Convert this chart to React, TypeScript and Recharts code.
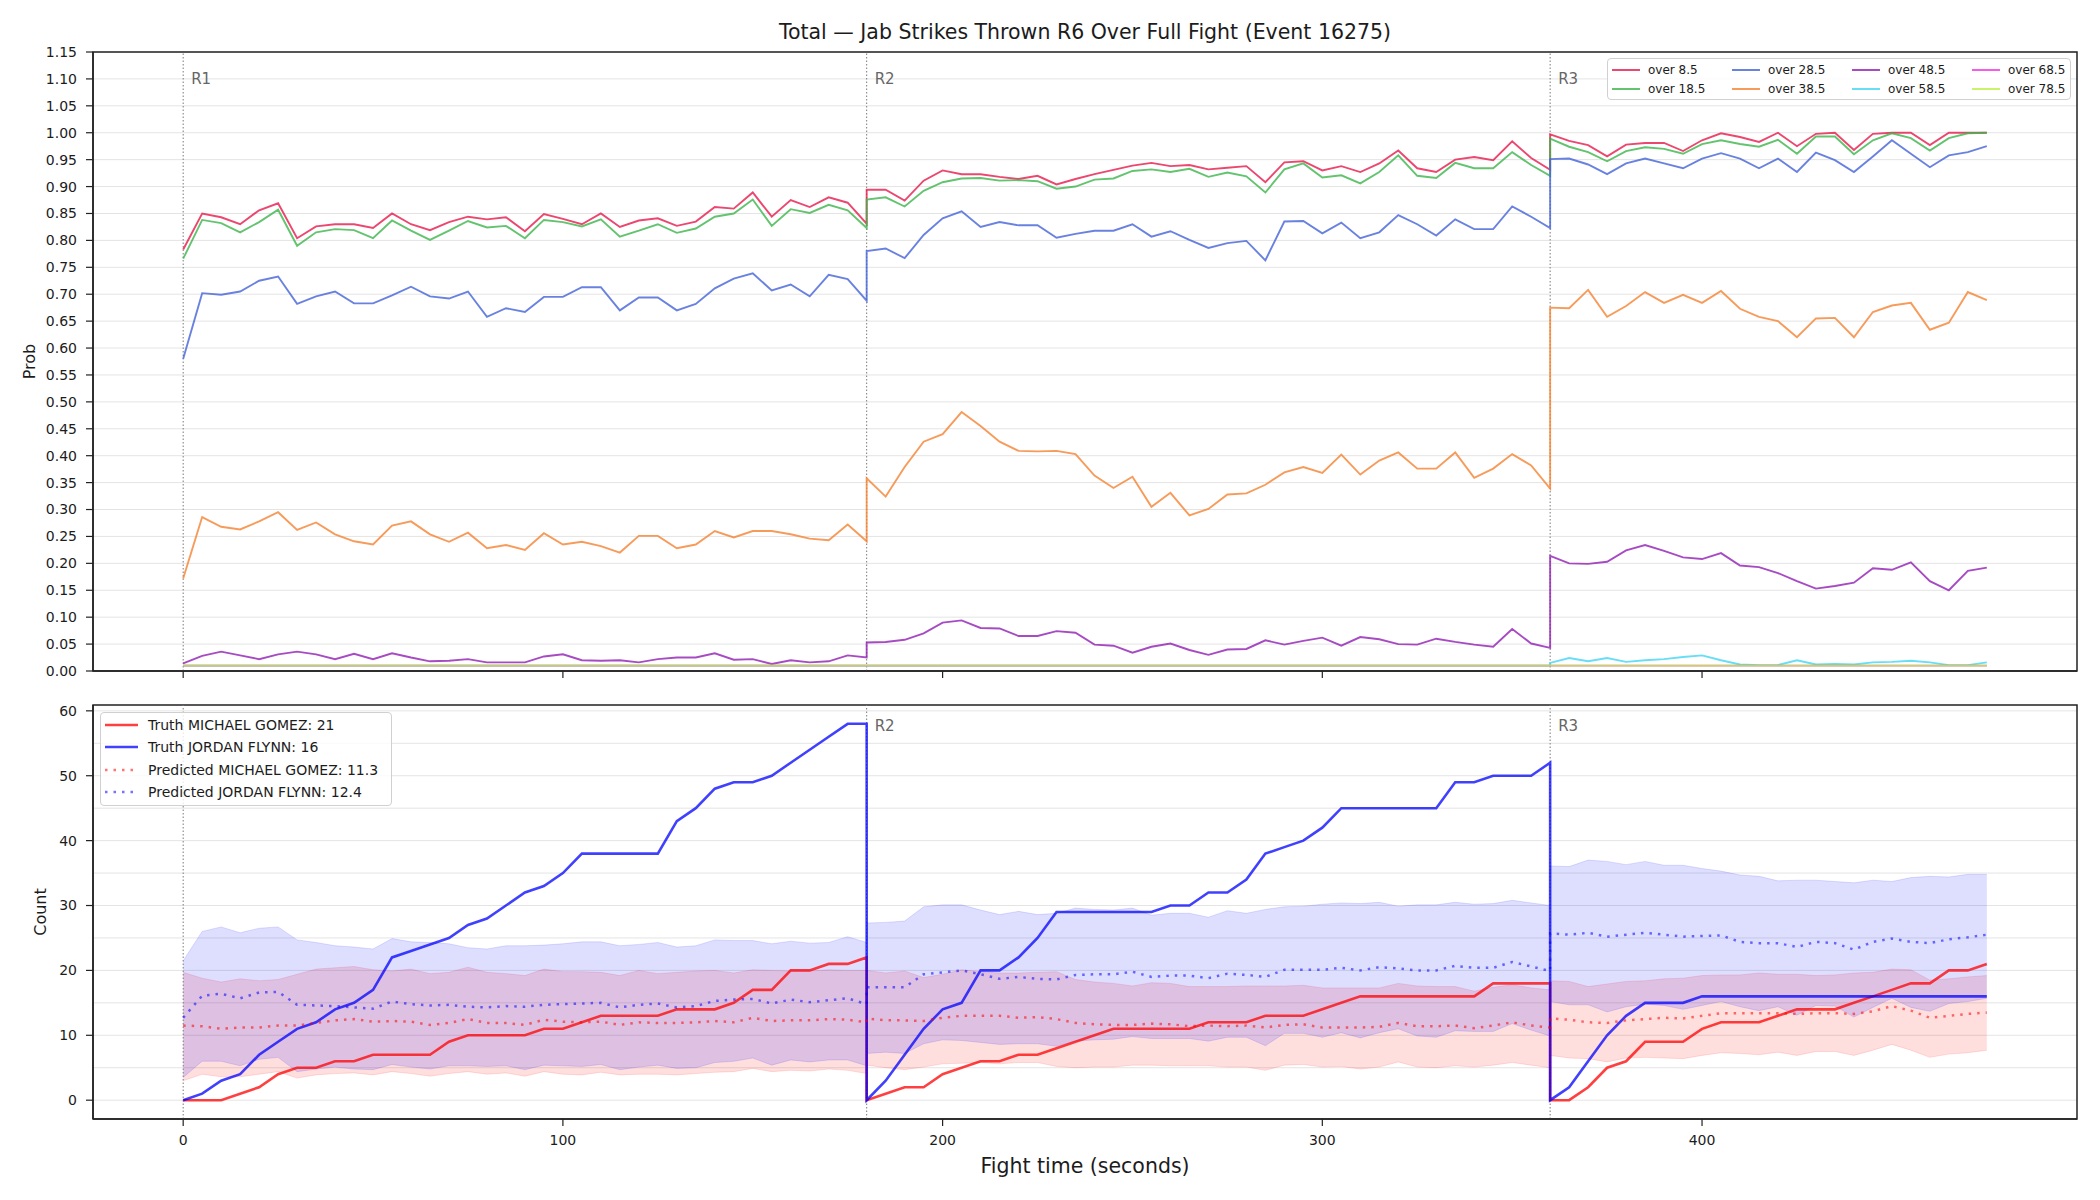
import React from 'react';
import {
  ComposedChart,
  Line,
  Area,
  XAxis,
  YAxis,
  CartesianGrid,
  ReferenceLine,
  ReferenceArea,
} from 'recharts';

const FONT = '"DejaVu Sans", sans-serif';
const INK = '#1c1c1c';

// fight clock in seconds; each round repeats its boundary second so the lines jump there
const r1Times = [0, 5, 10, 15, 20, 25, 30, 35, 40, 45, 50, 55, 60, 65, 70, 75, 80, 85, 90, 95, 100, 105, 110, 115, 120, 125, 130, 135, 140, 145, 150, 155, 160, 165, 170, 175, 180];
const r2Times = [180, 185, 190, 195, 200, 205, 210, 215, 220, 225, 230, 235, 240, 245, 250, 255, 260, 265, 270, 275, 280, 285, 290, 295, 300, 305, 310, 315, 320, 325, 330, 335, 340, 345, 350, 355, 360];
const r3Times = [360, 365, 370, 375, 380, 385, 390, 395, 400, 405, 410, 415, 420, 425, 430, 435, 440, 445, 450, 455, 460, 465, 470, 475];
const fightTimes = [...r1Times, ...r2Times, ...r3Times];

const xTicks = [0, 100, 200, 300, 400];
const probTicks = [0, 0.05, 0.1, 0.15, 0.2, 0.25, 0.3, 0.35, 0.4, 0.45, 0.5, 0.55, 0.6, 0.65, 0.7, 0.75, 0.8, 0.85, 0.9, 0.95, 1.0, 1.05, 1.1, 1.15];
const countTicks = [0, 10, 20, 30, 40, 50, 60];
const countGrid = [0, 5, 10, 15, 20, 25, 30, 35, 40, 45, 50, 55, 60];

const roundStarts = [0, 180, 360];
const roundNames = ['R1', 'R2', 'R3'];

const lineNames = ['over 8.5', 'over 18.5', 'over 28.5', 'over 38.5', 'over 48.5', 'over 58.5', 'over 68.5', 'over 78.5'];
const lineColors = ['#e6194b', '#3cb44b', '#4363d8', '#f58231', '#911eb4', '#42d4f4', '#f032e6', '#bfef45'];

const over8_5 = [
  0.783, 0.85, 0.843, 0.83, 0.856, 0.869, 0.804, 0.826, 0.83, 0.83, 0.823, 0.85, 0.83, 0.819, 0.834, 0.844, 0.839, 0.843, 0.817, 0.849, 0.84, 0.83, 0.85, 0.825, 0.837, 0.841, 0.827, 0.835, 0.862, 0.859, 0.889, 0.844, 0.875, 0.862, 0.88, 0.87, 0.831,
  0.894, 0.894, 0.874, 0.911, 0.93, 0.923, 0.923, 0.918, 0.914, 0.92, 0.904, 0.914, 0.923, 0.931, 0.939, 0.944, 0.938, 0.94, 0.932, 0.935, 0.938, 0.908, 0.945, 0.947, 0.93, 0.938, 0.927, 0.943, 0.967, 0.934, 0.927, 0.95, 0.955, 0.949, 0.984, 0.953, 0.931,
  0.997, 0.985, 0.977, 0.956, 0.978, 0.981, 0.981, 0.966, 0.986, 0.999, 0.992, 0.983, 1.0, 0.975, 0.998, 1.0, 0.968, 0.998, 1.0, 1.0, 0.977, 1.0, 1.0, 1.0,
];
const over18_5 = [
  0.766, 0.838, 0.832, 0.815, 0.834, 0.857, 0.79, 0.815, 0.821, 0.819, 0.804, 0.837, 0.818, 0.801, 0.818, 0.836, 0.824, 0.827, 0.804, 0.838, 0.834, 0.826, 0.839, 0.807, 0.818, 0.83, 0.814, 0.822, 0.844, 0.85, 0.876, 0.827, 0.858, 0.851, 0.866, 0.856, 0.823,
  0.876, 0.88, 0.863, 0.892, 0.908, 0.915, 0.916, 0.911, 0.912, 0.91, 0.896, 0.9, 0.913, 0.915, 0.929, 0.932, 0.927, 0.933, 0.918, 0.926, 0.919, 0.889, 0.932, 0.943, 0.917, 0.921, 0.906, 0.927, 0.958, 0.92, 0.916, 0.944, 0.934, 0.934, 0.964, 0.94, 0.92,
  0.989, 0.974, 0.964, 0.947, 0.966, 0.973, 0.97, 0.961, 0.979, 0.986, 0.979, 0.974, 0.987, 0.961, 0.993, 0.993, 0.96, 0.986, 0.999, 0.99, 0.967, 0.99, 0.999, 1.0,
];
const over28_5 = [
  0.58, 0.702, 0.699, 0.705, 0.725, 0.733, 0.682, 0.696, 0.705, 0.683, 0.683, 0.698, 0.714, 0.696, 0.692, 0.705, 0.658, 0.674, 0.667, 0.695, 0.695, 0.713, 0.713, 0.67, 0.694, 0.694, 0.67, 0.682, 0.711, 0.729, 0.739, 0.707, 0.718, 0.696, 0.736, 0.728, 0.688,
  0.78, 0.785, 0.767, 0.81, 0.841, 0.854, 0.825, 0.834, 0.828, 0.828, 0.805, 0.812, 0.818, 0.818, 0.83, 0.807, 0.817, 0.801, 0.786, 0.795, 0.799, 0.763, 0.835, 0.836, 0.813, 0.833, 0.804, 0.815, 0.847, 0.83, 0.809, 0.839, 0.821, 0.821, 0.863, 0.844, 0.823,
  0.951, 0.952, 0.941, 0.923, 0.943, 0.952, 0.943, 0.934, 0.952, 0.962, 0.952, 0.934, 0.952, 0.927, 0.963, 0.949, 0.927, 0.956, 0.986, 0.961, 0.936, 0.958, 0.964, 0.975,
];
const over38_5 = [
  0.172, 0.286, 0.268, 0.263, 0.278, 0.295, 0.262, 0.276, 0.254, 0.241, 0.235, 0.27, 0.278, 0.254, 0.24, 0.257, 0.228, 0.234, 0.225, 0.256, 0.235, 0.24, 0.232, 0.22, 0.251, 0.251, 0.228, 0.235, 0.26, 0.248, 0.26, 0.26, 0.254, 0.246, 0.243, 0.272, 0.241,
  0.358, 0.324, 0.379, 0.426, 0.44, 0.481, 0.455, 0.426, 0.409, 0.408, 0.409, 0.403, 0.363, 0.34, 0.361, 0.305, 0.331, 0.289, 0.301, 0.328, 0.33, 0.346, 0.369, 0.379, 0.368, 0.402, 0.365, 0.391, 0.406, 0.376, 0.376, 0.406, 0.359, 0.376, 0.403, 0.382, 0.339,
  0.675, 0.674, 0.708, 0.658, 0.678, 0.704, 0.684, 0.699, 0.684, 0.706, 0.673, 0.658, 0.65, 0.62, 0.655, 0.656, 0.62, 0.667, 0.679, 0.684, 0.634, 0.647, 0.704, 0.689,
];
const over48_5 = [
  0.014, 0.028, 0.036, 0.029, 0.022, 0.031, 0.036, 0.031, 0.022, 0.032, 0.022, 0.033, 0.025, 0.018, 0.019, 0.022, 0.016, 0.016, 0.016, 0.027, 0.031, 0.02, 0.019, 0.02, 0.016, 0.022, 0.025, 0.025, 0.033, 0.021, 0.022, 0.013, 0.02, 0.016, 0.018, 0.029, 0.025,
  0.053, 0.054, 0.058, 0.07, 0.09, 0.094, 0.08, 0.079, 0.065, 0.065, 0.074, 0.071, 0.049, 0.047, 0.034, 0.045, 0.051, 0.039, 0.03, 0.04, 0.041, 0.057, 0.049, 0.056, 0.062, 0.047, 0.063, 0.059, 0.05, 0.049, 0.06, 0.054, 0.049, 0.045, 0.078, 0.051, 0.043,
  0.214, 0.2, 0.199, 0.203, 0.224, 0.234, 0.223, 0.211, 0.208, 0.219, 0.196, 0.193, 0.182, 0.167, 0.153, 0.158, 0.164, 0.191, 0.188, 0.202, 0.167, 0.15, 0.186, 0.192,
];
const over58_5 = [
  0.01, 0.01, 0.01, 0.01, 0.01, 0.01, 0.01, 0.01, 0.01, 0.01, 0.01, 0.01, 0.01, 0.01, 0.01, 0.01, 0.01, 0.01, 0.01, 0.01, 0.01, 0.01, 0.01, 0.01, 0.01, 0.01, 0.01, 0.01, 0.01, 0.01, 0.01, 0.01, 0.01, 0.01, 0.01, 0.01, 0.01,
  0.01, 0.01, 0.01, 0.01, 0.01, 0.01, 0.01, 0.01, 0.01, 0.01, 0.01, 0.01, 0.01, 0.01, 0.01, 0.01, 0.01, 0.01, 0.01, 0.01, 0.01, 0.01, 0.01, 0.01, 0.01, 0.01, 0.01, 0.01, 0.01, 0.01, 0.01, 0.01, 0.01, 0.01, 0.01, 0.01, 0.01,
  0.015, 0.024, 0.018, 0.024, 0.017, 0.02, 0.022, 0.026, 0.029, 0.02, 0.012, 0.011, 0.011, 0.02, 0.012, 0.013, 0.012, 0.016, 0.017, 0.019, 0.016, 0.011, 0.011, 0.016,
];
const over68_5 = [
  0.01, 0.01, 0.01, 0.01, 0.01, 0.01, 0.01, 0.01, 0.01, 0.01, 0.01, 0.01, 0.01, 0.01, 0.01, 0.01, 0.01, 0.01, 0.01, 0.01, 0.01, 0.01, 0.01, 0.01, 0.01, 0.01, 0.01, 0.01, 0.01, 0.01, 0.01, 0.01, 0.01, 0.01, 0.01, 0.01, 0.01,
  0.01, 0.01, 0.01, 0.01, 0.01, 0.01, 0.01, 0.01, 0.01, 0.01, 0.01, 0.01, 0.01, 0.01, 0.01, 0.01, 0.01, 0.01, 0.01, 0.01, 0.01, 0.01, 0.01, 0.01, 0.01, 0.01, 0.01, 0.01, 0.01, 0.01, 0.01, 0.01, 0.01, 0.01, 0.01, 0.01, 0.01,
  0.01, 0.01, 0.01, 0.01, 0.01, 0.01, 0.01, 0.01, 0.01, 0.01, 0.01, 0.01, 0.01, 0.01, 0.01, 0.01, 0.01, 0.01, 0.01, 0.01, 0.01, 0.01, 0.01, 0.01,
];
const over78_5 = [
  0.01, 0.01, 0.01, 0.01, 0.01, 0.01, 0.01, 0.01, 0.01, 0.01, 0.01, 0.01, 0.01, 0.01, 0.01, 0.01, 0.01, 0.01, 0.01, 0.01, 0.01, 0.01, 0.01, 0.01, 0.01, 0.01, 0.01, 0.01, 0.01, 0.01, 0.01, 0.01, 0.01, 0.01, 0.01, 0.01, 0.01,
  0.01, 0.01, 0.01, 0.01, 0.01, 0.01, 0.01, 0.01, 0.01, 0.01, 0.01, 0.01, 0.01, 0.01, 0.01, 0.01, 0.01, 0.01, 0.01, 0.01, 0.01, 0.01, 0.01, 0.01, 0.01, 0.01, 0.01, 0.01, 0.01, 0.01, 0.01, 0.01, 0.01, 0.01, 0.01, 0.01, 0.01,
  0.01, 0.01, 0.01, 0.01, 0.01, 0.01, 0.01, 0.01, 0.01, 0.01, 0.01, 0.01, 0.01, 0.01, 0.01, 0.01, 0.01, 0.01, 0.01, 0.01, 0.01, 0.01, 0.01, 0.01,
];
const overSeries = [over8_5, over18_5, over28_5, over38_5, over48_5, over58_5, over68_5, over78_5];

// counts panel
const truthGomez = [
  0, 0, 0, 1, 2, 4, 5, 5, 6, 6, 7, 7, 7, 7, 9, 10, 10, 10, 10, 11, 11, 12, 13, 13, 13, 13, 14, 14, 14, 15, 17, 17, 20, 20, 21, 21, 22,
  0, 1, 2, 2, 4, 5, 6, 6, 7, 7, 8, 9, 10, 11, 11, 11, 11, 11, 12, 12, 12, 13, 13, 13, 14, 15, 16, 16, 16, 16, 16, 16, 16, 18, 18, 18, 18,
  0, 0, 2, 5, 6, 9, 9, 9, 11, 12, 12, 12, 13, 14, 14, 14, 15, 16, 17, 18, 18, 20, 20, 21,
];
const truthFlynn = [
  0, 1, 3, 4, 7, 9, 11, 12, 14, 15, 17, 22, 23, 24, 25, 27, 28, 30, 32, 33, 35, 38, 38, 38, 38, 38, 43, 45, 48, 49, 49, 50, 52, 54, 56, 58, 58,
  0, 3, 7, 11, 14, 15, 20, 20, 22, 25, 29, 29, 29, 29, 29, 29, 30, 30, 32, 32, 34, 38, 39, 40, 42, 45, 45, 45, 45, 45, 45, 49, 49, 50, 50, 50, 52,
  0, 2, 6, 10, 13, 15, 15, 15, 16, 16, 16, 16, 16, 16, 16, 16, 16, 16, 16, 16, 16, 16, 16, 16,
];
const predGomez = [
  11.5, 11.4, 11.0, 11.2, 11.2, 11.5, 11.5, 11.9, 12.3, 12.5, 12.1, 12.2, 12.1, 11.6, 11.9, 12.5, 11.9, 11.9, 11.6, 12.4, 12.1, 12.0, 12.1, 11.6, 12.0, 11.9, 11.9, 12.0, 12.2, 12.0, 12.7, 12.2, 12.3, 12.3, 12.5, 12.4, 12.0,
  12.6, 12.3, 12.3, 12.2, 12.7, 13.0, 13.0, 13.0, 12.7, 12.8, 12.5, 11.9, 11.7, 11.6, 11.6, 11.8, 11.7, 11.4, 11.5, 11.4, 11.5, 11.2, 11.6, 11.7, 11.2, 11.2, 11.2, 11.3, 11.9, 11.4, 11.4, 11.5, 11.1, 11.5, 12.0, 11.5, 11.2,
  12.6, 12.4, 12.0, 11.9, 12.3, 12.5, 12.7, 12.6, 13.0, 13.4, 13.4, 13.4, 13.4, 13.3, 13.4, 13.4, 13.3, 13.7, 14.5, 13.8, 12.7, 13.0, 13.3, 13.5,
];
const predFlynn = [
  12.7, 16.1, 16.4, 15.7, 16.6, 16.7, 14.7, 14.6, 14.5, 14.3, 14.1, 15.2, 14.8, 14.6, 14.7, 14.4, 14.3, 14.5, 14.4, 14.7, 14.8, 14.9, 15.0, 14.3, 14.7, 14.9, 14.3, 14.5, 15.3, 15.5, 15.6, 14.9, 15.5, 15.1, 15.4, 15.7, 14.8,
  17.4, 17.4, 17.4, 19.4, 19.7, 20.0, 19.4, 18.7, 19.0, 18.7, 18.6, 19.3, 19.4, 19.4, 19.8, 19.0, 19.2, 19.2, 18.8, 19.5, 19.3, 19.0, 20.1, 20.1, 20.1, 20.4, 20.0, 20.5, 20.3, 20.0, 20.0, 20.7, 20.4, 20.4, 21.3, 20.6, 19.9,
  25.7, 25.5, 25.8, 25.2, 25.5, 25.8, 25.5, 25.2, 25.3, 25.4, 24.4, 24.2, 24.2, 23.6, 24.4, 24.2, 23.2, 24.4, 24.9, 24.4, 24.2, 24.8, 25.1, 25.5,
];
const gomezLow = [
  3.0, 4.0, 3.6, 3.6, 4.0, 4.4, 3.4, 3.9, 4.1, 4.2, 3.9, 4.4, 4.1, 3.7, 4.1, 4.4, 4.0, 4.2, 3.7, 4.4, 4.0, 3.9, 4.3, 3.9, 4.0, 4.0, 3.9, 4.1, 4.3, 4.4, 4.9, 4.4, 4.6, 4.5, 4.8, 4.6, 4.1,
  5.4, 5.0, 4.7, 5.1, 5.6, 5.7, 5.8, 5.6, 5.8, 5.8, 5.2, 5.0, 5.1, 5.1, 5.4, 5.4, 5.3, 5.3, 5.3, 5.1, 5.1, 4.6, 5.4, 5.5, 5.1, 5.2, 4.8, 5.1, 5.9, 5.1, 5.0, 5.3, 5.1, 5.4, 5.8, 5.4, 5.0,
  6.9, 6.5, 6.4, 5.9, 6.5, 6.6, 6.5, 6.4, 6.9, 7.3, 7.2, 7.0, 7.4, 6.9, 7.5, 7.5, 6.9, 7.7, 8.6, 7.7, 6.6, 7.1, 7.3, 7.7,
];
const gomezHigh = [
  19.7, 18.8, 18.2, 18.7, 18.4, 18.6, 19.4, 20.2, 20.4, 20.6, 20.1, 19.9, 20.2, 19.5, 19.7, 20.5, 19.7, 19.5, 19.2, 20.2, 19.8, 19.8, 19.7, 19.2, 20.0, 19.5, 19.7, 19.9, 20.0, 19.6, 20.1, 20.0, 19.9, 19.9, 20.1, 20.0, 20.0,
  20.0, 19.6, 19.9, 18.9, 19.4, 20.1, 19.8, 19.6, 19.6, 19.7, 19.8, 18.6, 18.2, 18.0, 17.6, 18.1, 18.0, 17.5, 17.5, 17.5, 17.6, 17.6, 17.6, 17.7, 17.3, 17.3, 17.3, 17.3, 18.0, 17.6, 17.5, 17.5, 16.8, 17.4, 17.8, 17.3, 17.0,
  18.4, 18.3, 17.5, 17.9, 18.3, 18.4, 18.7, 18.8, 19.2, 19.3, 19.3, 19.6, 19.4, 19.4, 19.2, 19.3, 19.6, 19.7, 20.2, 20.1, 18.5, 18.7, 19.0, 19.2,
];
const flynnLow = [
  3.5, 6.0, 6.0, 5.3, 6.3, 6.6, 4.4, 4.8, 5.1, 4.8, 4.7, 5.5, 5.1, 4.8, 5.3, 5.3, 5.2, 5.3, 4.7, 5.4, 5.3, 5.2, 5.5, 4.7, 5.1, 5.4, 4.9, 5.0, 5.8, 6.0, 6.5, 5.4, 6.2, 5.9, 6.2, 6.2, 5.3,
  7.2, 7.4, 7.2, 8.7, 9.3, 9.2, 8.9, 8.6, 8.7, 8.7, 8.3, 9.1, 9.3, 9.4, 9.8, 9.5, 9.5, 9.5, 9.1, 9.7, 9.7, 8.4, 10.3, 10.3, 9.7, 10.4, 9.6, 10.4, 11.0, 9.9, 9.7, 10.7, 10.6, 10.6, 11.8, 10.8, 9.9,
  15.2, 14.7, 14.7, 13.6, 14.4, 14.8, 14.6, 14.0, 14.6, 15.2, 14.4, 13.8, 14.4, 13.1, 14.6, 14.5, 12.8, 14.3, 15.7, 14.3, 13.7, 14.9, 15.2, 15.7,
];
const flynnHigh = [
  21.5, 26.0, 26.7, 25.8, 26.5, 26.7, 24.7, 24.3, 23.8, 23.6, 23.3, 24.9, 24.4, 24.3, 24.1, 23.5, 23.3, 23.8, 23.8, 23.9, 24.1, 24.4, 24.4, 23.8, 24.0, 24.3, 23.6, 23.8, 24.7, 24.6, 24.6, 24.1, 24.5, 24.2, 24.3, 25.2, 24.3,
  27.3, 27.4, 27.6, 29.8, 30.1, 30.1, 29.3, 28.6, 29.1, 28.6, 28.8, 29.6, 29.4, 29.3, 29.6, 28.5, 28.8, 28.8, 28.2, 29.2, 28.8, 29.4, 29.8, 29.9, 30.2, 30.4, 30.3, 30.5, 29.9, 30.1, 30.1, 30.5, 30.2, 30.3, 30.8, 30.4, 30.0,
  36.1, 36.0, 37.0, 36.8, 36.3, 36.8, 36.2, 36.2, 35.7, 35.3, 34.7, 34.5, 33.8, 33.9, 33.9, 33.7, 33.5, 33.9, 33.7, 34.3, 34.5, 34.4, 34.8, 34.8,
];

const probRows = fightTimes.map((t, i) => {
  const row: Record<string, number> = { t };
  overSeries.forEach((s, k) => { row[`k${k}`] = s[i]; });
  return row;
});

const countRows = fightTimes.map((t, i) => ({
  t,
  truthGomez: truthGomez[i],
  truthFlynn: truthFlynn[i],
  predGomez: predGomez[i],
  predFlynn: predFlynn[i],
  bandGomez: [gomezLow[i], gomezHigh[i]],
  bandFlynn: [flynnLow[i], flynnHigh[i]],
}));

const countLegend = [
  { label: 'Truth MICHAEL GOMEZ: 21', color: '#ff0000', opacity: 0.75, dash: undefined },
  { label: 'Truth JORDAN FLYNN: 16', color: '#0000ff', opacity: 0.75, dash: undefined },
  { label: 'Predicted MICHAEL GOMEZ: 11.3', color: '#ff0000', opacity: 0.55, dash: '2.5 6' },
  { label: 'Predicted JORDAN FLYNN: 12.4', color: '#0000ff', opacity: 0.55, dash: '2.5 6' },
];

const X_DOMAIN = [-23.75, 498.75];
const PROB_DOMAIN = [0, 1.15];
const COUNT_DOMAIN = [-2.9, 60.9];

const tickStyle = { fill: INK, fontSize: 14, fontFamily: FONT };
const axisLine = { stroke: '#222', strokeWidth: 1.5 };
const tickLine = { stroke: '#222', strokeWidth: 1.2 };

const RoundTag = ({ viewBox, tag }: any) => {
  if (!viewBox) return null;
  return (
    <text
      x={viewBox.x + 8}
      y={viewBox.y + viewBox.height * 0.03 + 13.5}
      fill="#666"
      fontSize={15}
      fontFamily={FONT}
    >
      {tag}
    </text>
  );
};

const roundLines = (showFirst: boolean) =>
  roundStarts.map((x, i) => (
    <ReferenceLine
      key={`round-${i}`}
      x={x}
      stroke="#7a7a7a"
      strokeWidth={1}
      strokeDasharray="1.5 2"
      label={showFirst || i > 0 ? <RoundTag tag={roundNames[i]} /> : undefined}
    />
  ));

const ProbLegend = () => (
  <div
    style={{
      position: 'absolute',
      left: 1607,
      top: 58,
      width: 464,
      height: 42,
      boxSizing: 'border-box',
      border: '1px solid #d0d0d0',
      borderRadius: 4,
      background: 'rgba(255,255,255,0.8)',
      fontFamily: FONT,
      fontSize: 12,
      color: INK,
    }}
  >
    {lineNames.map((name, k) => {
      const col = Math.floor(k / 2);
      const row = k % 2;
      return (
        <div key={name} style={{ position: 'absolute', left: 4 + col * 120, top: 1 + row * 19, height: 19, display: 'flex', alignItems: 'center' }}>
          <svg width={28} height={4} style={{ display: 'block' }}>
            <line x1={0} y1={2} x2={28} y2={2} stroke={lineColors[k]} strokeOpacity={0.8} strokeWidth={2} />
          </svg>
          <span style={{ marginLeft: 8, whiteSpace: 'nowrap' }}>{name}</span>
        </div>
      );
    })}
  </div>
);

const CountLegend = () => (
  <div
    style={{
      position: 'absolute',
      left: 100,
      top: 712,
      width: 292,
      height: 94,
      boxSizing: 'border-box',
      border: '1px solid #d0d0d0',
      borderRadius: 4,
      background: 'rgba(255,255,255,0.8)',
      fontFamily: FONT,
      fontSize: 14,
      color: INK,
    }}
  >
    {countLegend.map((item, k) => (
      <div key={item.label} style={{ position: 'absolute', left: 4, top: 1 + k * 22.4, height: 22, display: 'flex', alignItems: 'center' }}>
        <svg width={33} height={4} style={{ display: 'block' }}>
          <line x1={0} y1={2} x2={33} y2={2} stroke={item.color} strokeOpacity={item.opacity} strokeWidth={2.5} strokeDasharray={item.dash} />
        </svg>
        <span style={{ marginLeft: 10, whiteSpace: 'nowrap' }}>{item.label}</span>
      </div>
    ))}
  </div>
);

export default function App() {
  return (
    <div style={{ position: 'absolute', left: 0, top: 0, width: 2100, height: 1200, background: '#fff', fontFamily: FONT }}>
      <div
        style={{
          position: 'absolute',
          left: 93,
          width: 1984,
          top: 19,
          textAlign: 'center',
          fontSize: 20.5,
          lineHeight: '26px',
          color: INK,
        }}
      >
        Total — Jab Strikes Thrown R6 Over Full Fight (Event 16275)
      </div>

      <div style={{ position: 'absolute', left: 0, top: 0 }}>
        <ComposedChart width={2100} height={700} data={probRows} margin={{ top: 52, right: 23, bottom: 0, left: 0 }}>
          <CartesianGrid vertical={false} stroke="#e4e4e4" strokeWidth={1} />
          <XAxis
            dataKey="t"
            type="number"
            domain={X_DOMAIN}
            allowDataOverflow
            ticks={xTicks}
            tickFormatter={() => ''}
            height={29}
            tickSize={7}
            axisLine={axisLine}
            tickLine={tickLine}
          />
          <YAxis
            type="number"
            domain={PROB_DOMAIN}
            allowDataOverflow
            ticks={probTicks}
            interval={0}
            tickFormatter={(v: number) => v.toFixed(2)}
            width={93}
            tickSize={7}
            tickMargin={9}
            tick={tickStyle}
            axisLine={axisLine}
            tickLine={tickLine}
            label={{ value: 'Prob', angle: -90, position: 'insideLeft', offset: 29, fill: INK, fontSize: 16, fontFamily: FONT, style: { textAnchor: 'middle' } }}
          />
          {roundLines(true)}
          {lineNames.map((name, k) => (
            <Line
              key={name}
              type="linear"
              dataKey={`k${k}`}
              name={name}
              stroke={lineColors[k]}
              strokeOpacity={0.8}
              strokeWidth={1.9}
              dot={false}
              activeDot={false}
              isAnimationActive={false}
            />
          ))}
          <ReferenceArea x1={X_DOMAIN[0]} x2={X_DOMAIN[1]} y1={PROB_DOMAIN[0]} y2={PROB_DOMAIN[1]} fill="none" stroke="#222" strokeWidth={1.5} ifOverflow="visible" />
        </ComposedChart>
      </div>

      <div style={{ position: 'absolute', left: 0, top: 700 }}>
        <ComposedChart width={2100} height={500} data={countRows} margin={{ top: 5, right: 23, bottom: 0, left: 0 }}>
          <CartesianGrid vertical={false} horizontalValues={countGrid} stroke="#e4e4e4" strokeWidth={1} />
          <XAxis
            dataKey="t"
            type="number"
            domain={X_DOMAIN}
            allowDataOverflow
            ticks={xTicks}
            height={81}
            tickSize={7}
            tickMargin={9}
            tick={tickStyle}
            axisLine={axisLine}
            tickLine={tickLine}
            label={{ value: 'Fight time (seconds)', position: 'insideBottom', offset: 27, fill: INK, fontSize: 20.5, fontFamily: FONT }}
          />
          <YAxis
            type="number"
            domain={COUNT_DOMAIN}
            allowDataOverflow
            ticks={countTicks}
            interval={0}
            width={93}
            tickSize={7}
            tickMargin={9}
            tick={tickStyle}
            axisLine={axisLine}
            tickLine={tickLine}
            label={{ value: 'Count', angle: -90, position: 'insideLeft', offset: 40, fill: INK, fontSize: 16, fontFamily: FONT, style: { textAnchor: 'middle' } }}
          />
          {roundLines(false)}
          <Area type="linear" dataKey="bandGomez" fill="#ff0000" fillOpacity={0.13} stroke="#ff0000" strokeOpacity={0.12} strokeWidth={1} dot={false} activeDot={false} isAnimationActive={false} />
          <Area type="linear" dataKey="bandFlynn" fill="#0000ff" fillOpacity={0.13} stroke="#0000ff" strokeOpacity={0.12} strokeWidth={1} dot={false} activeDot={false} isAnimationActive={false} />
          <Line type="linear" dataKey="truthGomez" stroke="#ff0000" strokeOpacity={0.75} strokeWidth={2.6} dot={false} activeDot={false} isAnimationActive={false} />
          <Line type="linear" dataKey="truthFlynn" stroke="#0000ff" strokeOpacity={0.75} strokeWidth={2.6} dot={false} activeDot={false} isAnimationActive={false} />
          <Line type="linear" dataKey="predGomez" stroke="#ff0000" strokeOpacity={0.55} strokeWidth={2.5} strokeDasharray="2.5 6" dot={false} activeDot={false} isAnimationActive={false} />
          <Line type="linear" dataKey="predFlynn" stroke="#0000ff" strokeOpacity={0.55} strokeWidth={2.5} strokeDasharray="2.5 6" dot={false} activeDot={false} isAnimationActive={false} />
          <ReferenceArea x1={X_DOMAIN[0]} x2={X_DOMAIN[1]} y1={COUNT_DOMAIN[0]} y2={COUNT_DOMAIN[1]} fill="none" stroke="#222" strokeWidth={1.5} ifOverflow="visible" />
        </ComposedChart>
      </div>

      <ProbLegend />
      <CountLegend />
    </div>
  );
}
